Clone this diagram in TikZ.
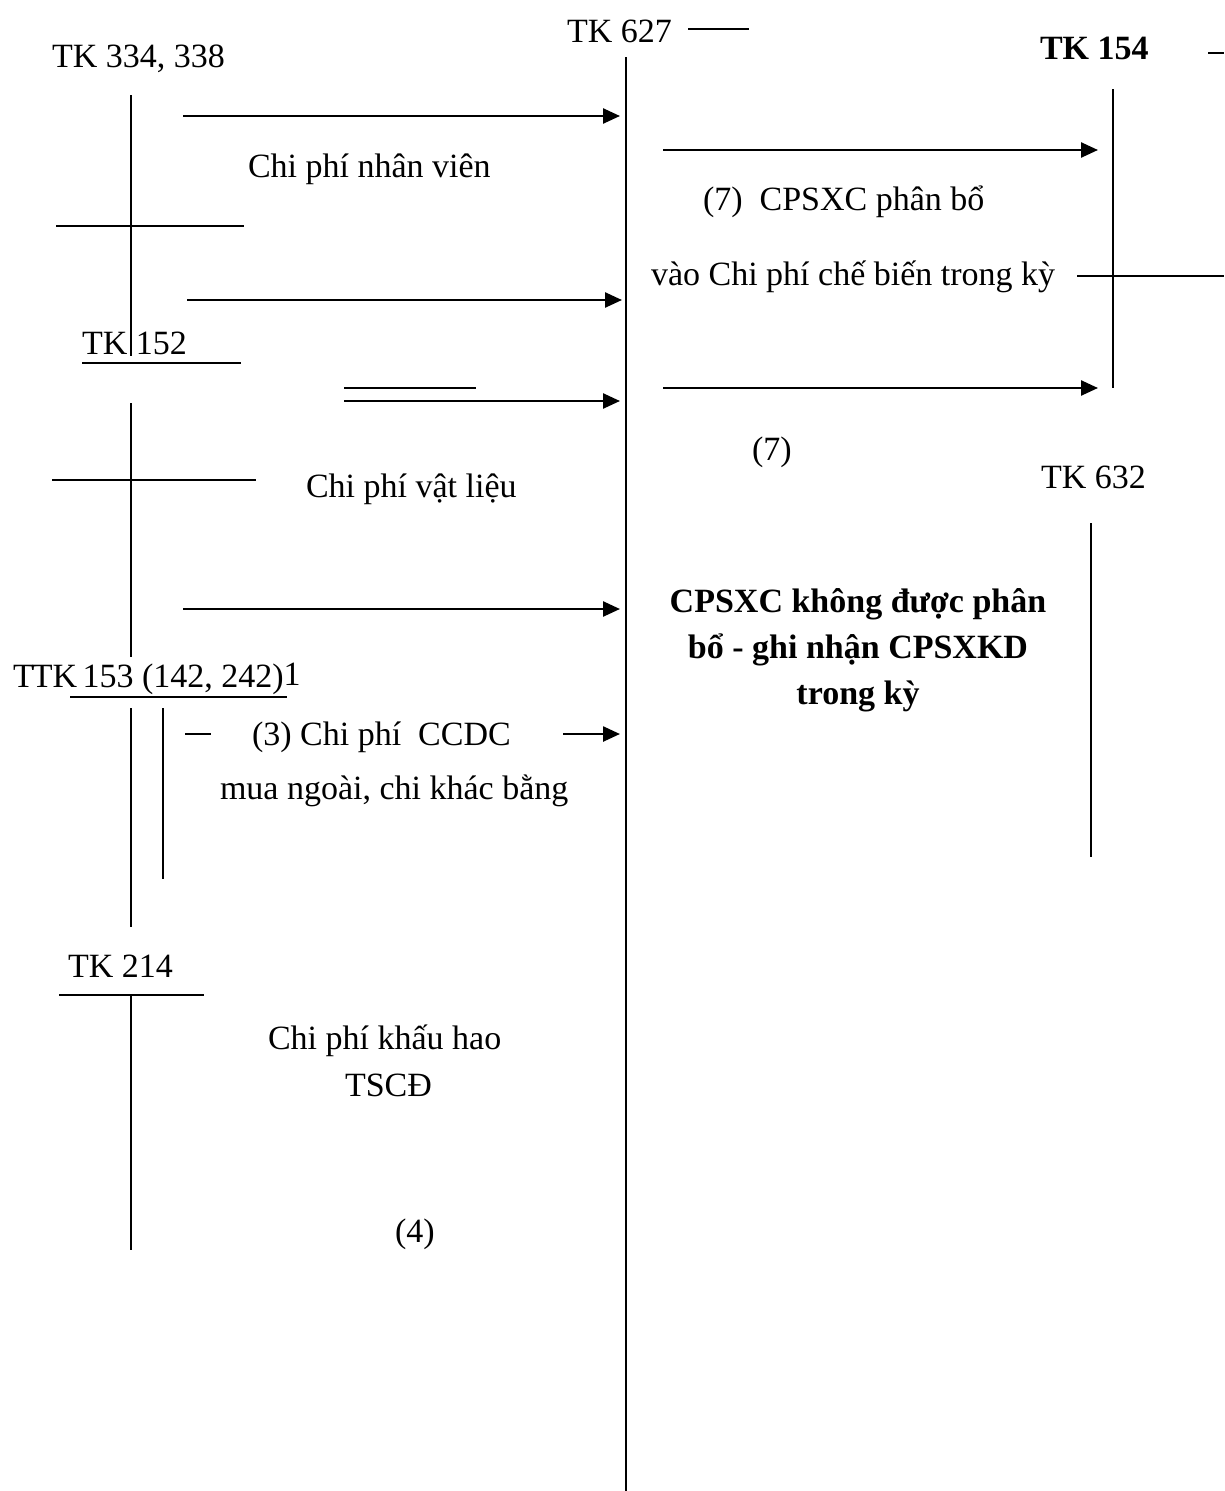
\documentclass[tikz,border=0pt]{standalone}
\usepackage{fontspec}
\setmainfont{Liberation Serif}
\usetikzlibrary{arrows.meta}
\begin{document}
\begin{tikzpicture}[x=1pt,y=-1pt,
  txt/.style={anchor=base west,inner sep=0pt,outer sep=0pt,font=\fontsize{34}{40}\selectfont},
  btxt/.style={anchor=base,inner sep=0pt,outer sep=0pt,font=\fontsize{34}{40}\selectfont\bfseries},
  tline/.style={line width=2pt},
  flow/.style={line width=2.5pt,-{Triangle[length=17pt,width=15pt]}}]
\useasboundingbox (0,0) rectangle (1224,1491);

% ---------- texts ----------
\node[txt] (a334) at (52,67) {TK 334, 338};
\node[txt] (a627) at (567,42) {TK 627};
\node[txt,font=\fontsize{34}{40}\selectfont\bfseries] (a154) at (1040,59) {TK 154};
\node[txt] (lnv) at (248,177) {Chi phí nhân viên};
\node[txt] (a152) at (82,354) {TK 152};
\node[txt] (lp7) at (703,210) {(7)\ \ CPSXC phân bổ};
\node[txt] (lvao) at (651,285) {vào Chi phí chế biến trong kỳ};
\node[txt] (l7b) at (752,460) {(7)};
\node[txt] (a632) at (1041,488) {TK 632};
\node[txt] (lvl) at (306,497) {Chi phí vật liệu};
\node[btxt] (b1) at (858,612) {CPSXC không được phân};
\node[btxt] (b2) at (858,658) {bổ - ghi nhận CPSXKD};
\node[btxt] (b3) at (858,704) {trong kỳ};
\node[txt] (a153) at (13,687) {T\kern-2pt TK\kern-3pt\ 153 (142, 242)\raisebox{1.5pt}{1}};
\node[txt] (l3) at (252,745) {(3) Chi phí\ \ CCDC};
\node[txt] (lmua) at (220,799) {mua ngoài, chi khác bằng};
\node[txt] (a214) at (68,977) {TK 214};
\node[txt] (lkh) at (268,1049) {Chi phí khấu hao};
\node[txt] (lts) at (345,1096) {TSCĐ};
\node[txt] (l4) at (395,1242) {(4)};

% ---------- T-account lines ----------
% TK 334, 338
\draw[tline] (131,95) -- (131,356);
\draw[tline] (56,226) -- (244,226);
% TK 152
\draw[tline] (82,363) -- (241,363);
\draw[tline] (131,403) -- (131,657);
\draw[tline] (52,480) -- (256,480);
% TK 153
\draw[tline] (70,697) -- (287,697);
\draw[tline] (131,708) -- (131,927);
\draw[tline] (163,708) -- (163,879);
\draw[tline] (185,734) -- (211,734);
% TK 214
\draw[tline] (59,995) -- (204,995);
\draw[tline] (131,995) -- (131,1250);
% TK 627
\draw[tline] (626,57) -- (626,1491);
\draw[tline] (688,29) -- (749,29);
% TK 154
\draw[tline] (1113,89) -- (1113,388);
\draw[tline] (1077,276) -- (1224,276);
\draw[tline] (1208,53) -- (1224,53);
% TK 632
\draw[tline] (1091,523) -- (1091,857);
% short line above arrow 3
\draw[tline] (344,388) -- (476,388);

% ---------- arrows ----------
\coordinate (s1) at (183,116); \coordinate (e1) at (620,116);
\coordinate (s2) at (187,300); \coordinate (e2) at (622,300);
\coordinate (s3) at (344,401); \coordinate (e3) at (620,401);
\coordinate (s4) at (183,609); \coordinate (e4) at (620,609);
\coordinate (s5) at (563,734); \coordinate (e5) at (620,734);
\coordinate (s6) at (663,150); \coordinate (e6) at (1098,150);
\coordinate (s7) at (663,388); \coordinate (e7) at (1098,388);
\draw[flow] (s1) -- (e1);
\draw[flow] (s2) -- (e2);
\draw[flow] (s3) -- (e3);
\draw[flow] (s4) -- (e4);
\draw[flow] (s5) -- (e5);
\draw[flow] (s6) -- (e6);
\draw[flow] (s7) -- (e7);
\end{tikzpicture}
\end{document}
